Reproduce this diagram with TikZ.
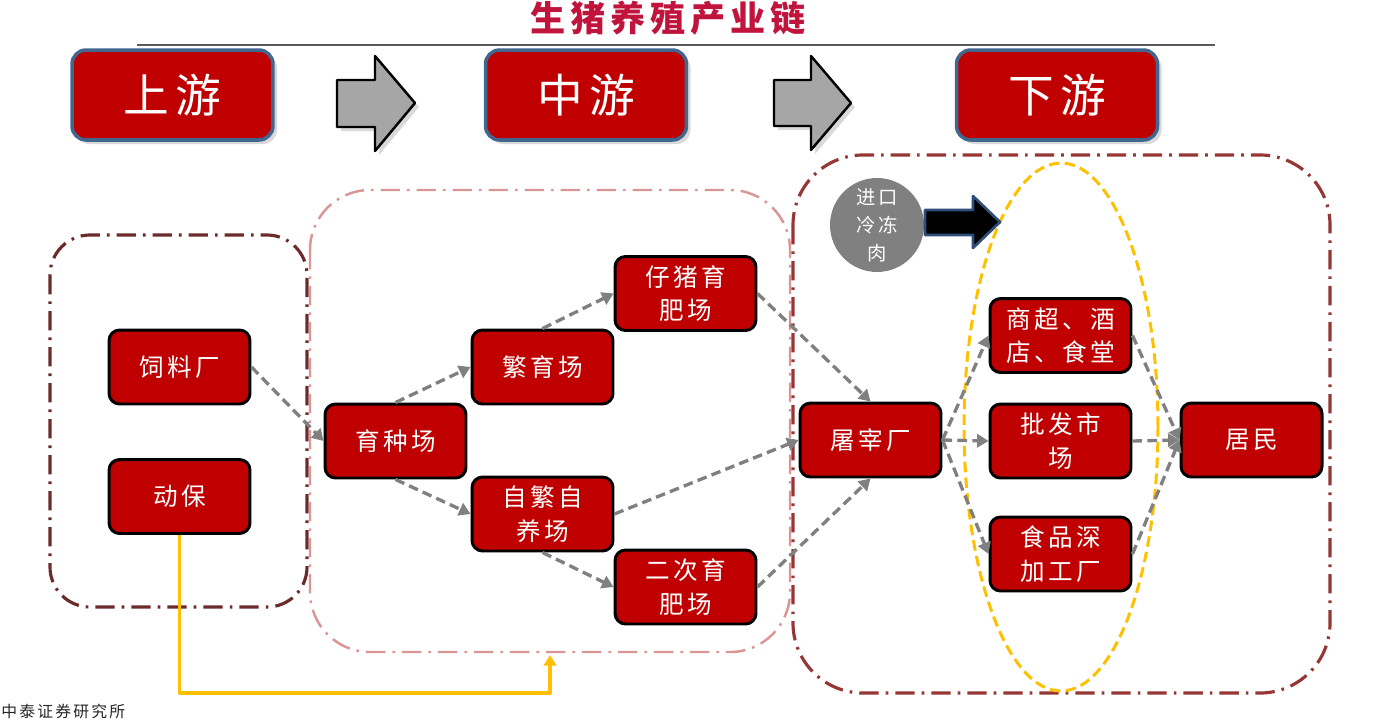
\documentclass[tikz,border=0pt]{standalone}
\usepackage{fontspec}
\setmainfont{Liberation Serif}
\newfontfamily\cjk[LetterSpace=14]{Noto Sans CJK SC}
\usetikzlibrary{arrows.meta,shadows,calc}

\definecolor{nodered}{HTML}{C00000}
\definecolor{titlered}{HTML}{C0143C}
\definecolor{stageblue}{HTML}{41668F}
\definecolor{upbrown}{HTML}{6B2B2B}
\definecolor{midpink}{HTML}{D99694}
\definecolor{downred}{HTML}{953735}
\definecolor{flowgray}{HTML}{808080}
\definecolor{arrowgray}{HTML}{A6A6A6}
\definecolor{goldline}{HTML}{FFC000}
\definecolor{navyedge}{HTML}{2F4F7A}

\begin{document}
\begin{tikzpicture}[x=0.02cm, y=-0.02cm, line join=round,
  stage/.style={draw=stageblue, line width=2pt, fill=nodered, rounded corners=8pt,
    minimum width=4.02cm, minimum height=1.8cm, text=white,
    font=\cjk\fontsize{26}{30}\selectfont, drop shadow={opacity=0.3}},
  farm/.style={draw=black, line width=1.7pt, fill=nodered, rounded corners=6pt,
    minimum width=2.82cm, minimum height=1.48cm, text=white, align=center,
    inner sep=2pt, font=\cjk\fontsize{14}{19}\selectfont},
  flow/.style={draw=flowgray, line width=1.9pt, dash pattern=on 5.5pt off 3pt,
    -{Triangle[length=6.5pt,width=7.5pt]}},
  zone/.style={line width=1.8pt, dash pattern=on 11pt off 4pt on 1.5pt off 4pt},
  bigarrow/.style={draw=black, line width=1.4pt, fill=arrowgray, drop shadow={opacity=0.3}}]
\useasboundingbox (0,0) rectangle (1375,727);

% title
\node[text=titlered, font=\cjk\bfseries\fontsize{20}{24}\selectfont] (title) at (668,18) {生猪养殖产业链};
\draw[black!65, line width=0.8pt] (137,45) -- (1215,45);

% stages
\node[stage] (up) at (172.5,95) {上游};
\node[stage] (mid) at (586,95) {中游};
\node[stage] (down) at (1057,95) {下游};
\draw[bigarrow] (337,80) -- (375,80) -- (375,56) -- (415,103) -- (375,151) -- (375,127) -- (337,127) -- cycle;
\draw[bigarrow] (774,80) -- (811,80) -- (811,56) -- (851,103) -- (811,150) -- (811,126) -- (774,126) -- cycle;

% zones
\draw[zone, draw=upbrown, rounded corners=0.8cm] (50,235) rectangle (307,607);
\draw[zone, draw=midpink, line width=1.4pt, rounded corners=1.2cm] (310,190) rectangle (790,652);
\draw[zone, draw=downred, rounded corners=1.4cm] (793,155) rectangle (1330,693);
\draw[goldline, line width=1.7pt, dash pattern=on 6pt off 3pt] (1061,427) ellipse [x radius=1.94cm, y radius=5.28cm];

% imports
\node[circle, fill=flowgray, minimum size=1.88cm, inner sep=0pt, text=white, align=center,
  font=\cjk\fontsize{11}{16}\selectfont] (frozen) at (877,225) {进口\\冷冻\\肉};
\draw[navyedge, line width=1.5pt, fill=black] (925,210) -- (973,210) -- (973,196) -- (1000,222)
  -- (973,248) -- (973,235) -- (925,235) -- cycle;

% farms
\node[farm] (feed) at (179.5,367) {饲料厂};
\node[farm] (vet) at (179.5,496.5) {动保};
\node[farm] (breed) at (395.5,441) {育种场};
\node[farm] (sow) at (542.5,367) {繁育场};
\node[farm] (piglet) at (685.5,293.5) {仔猪育\\肥场};
\node[farm] (self) at (542.5,514) {自繁自\\养场};
\node[farm] (second) at (685.5,587) {二次育\\肥场};
\node[farm] (slaughter) at (870.5,440) {屠宰厂};
\node[farm] (retail) at (1060.5,335.5) {商超、酒\\店、食堂};
\node[farm] (market) at (1060.5,441) {批发市\\场};
\node[farm] (food) at (1060.5,554) {食品深\\加工厂};
\node[farm] (home) at (1251.5,440) {居民};

% flows
\draw[flow] (feed.east) -- (breed.west);
\draw[flow] (breed.north) -- (sow.west);
\draw[flow] (sow.north) -- (piglet.west);
\draw[flow] (breed.south) -- (self.west);
\draw[flow] (self.south) -- (second.west);
\draw[flow] (piglet.east) -- (slaughter.north);
\draw[flow] (self.east) -- (slaughter.west);
\draw[flow] (second.east) -- (slaughter.south);
\draw[flow] (slaughter.east) -- (retail.west);
\draw[flow] (slaughter.east) -- (market.west);
\draw[flow] (slaughter.east) -- (food.west);
\draw[flow] (retail.east) -- (home.west);
\draw[flow] (market.east) -- (home.west);
\draw[flow] (food.east) -- (home.west);

\coordinate (medicine) at (550,655);
\draw[goldline, line width=1.8pt, -{Triangle[length=6pt,width=7pt]}] (vet.south) -- (vet.south |- 0,693) -| (medicine);

% source
\node[anchor=west, inner sep=0pt, font=\cjk\fontsize{9}{10}\selectfont, text=black!85] (source) at (1,711) {中泰证券研究所};
\end{tikzpicture}
\end{document}
